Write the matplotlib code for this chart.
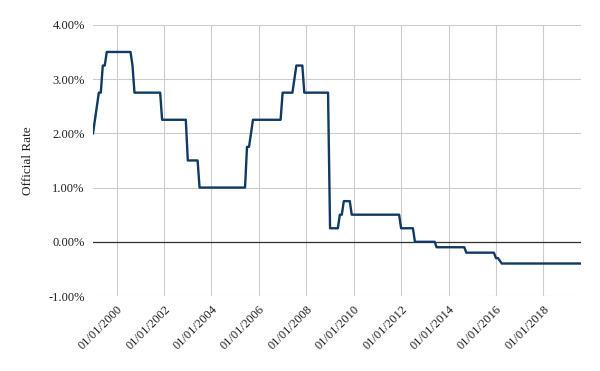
import matplotlib
matplotlib.use('Agg')
import matplotlib.pyplot as plt
import matplotlib.dates as mdates
import pandas as pd

# change points of the official rate (month, rate in %)
months = ["1999-01", "1999-04", "1999-05", "1999-06", "1999-07", "1999-08",
          "2000-08", "2000-09", "2000-10", "2001-11", "2001-12", "2002-12",
          "2003-01", "2003-06", "2003-07", "2005-06", "2005-07", "2005-08",
          "2005-09", "2005-10", "2006-12", "2007-01", "2007-06", "2007-08",
          "2007-11", "2007-12", "2008-12", "2009-01", "2009-05", "2009-06",
          "2009-07", "2009-08", "2009-11", "2009-12", "2011-12", "2012-01",
          "2012-07", "2012-08", "2013-06", "2013-07", "2014-09", "2014-10",
          "2015-12", "2016-01", "2016-02", "2016-04", "2019-08"]
rates = [2.00, 2.75, 2.75, 3.25, 3.25, 3.50,
         3.50, 3.25, 2.75, 2.75, 2.25, 2.25,
         1.50, 1.50, 1.00, 1.00, 1.75, 1.75,
         2.00, 2.25, 2.25, 2.75, 2.75, 3.25,
         3.25, 2.75, 2.75, 0.25, 0.25, 0.50,
         0.50, 0.75, 0.75, 0.50, 0.50, 0.25,
         0.25, 0.00, 0.00, -0.10, -0.10, -0.20,
         -0.20, -0.30, -0.30, -0.40, -0.40]
tick_years = list(range(2000, 2020, 2))
y_ticks = [-1, 0, 1, 2, 3, 4]

plt.rcParams['font.family'] = ['Liberation Serif', 'DejaVu Serif']

dates = pd.to_datetime(months)

fig = plt.figure(figsize=(6, 3.71), dpi=100)
ax = fig.add_axes([0.155, 0.202, 0.813, 0.731])

ax.plot(dates, rates, color='#0e3a64', lw=1.7, zorder=3)
ax.axhline(0, color='#333333', lw=0.9, zorder=2)

ax.set_xlim(pd.Timestamp("1999-01-01"), dates[-1])
ax.set_ylim(-1, 4)
ax.set_yticks(y_ticks)
ax.set_yticklabels(["%.2f%%" % v for v in y_ticks])
ax.set_xticks([pd.Timestamp("%d-01-01" % y) for y in tick_years])
ax.xaxis.set_major_formatter(mdates.DateFormatter('%d/%m/%Y'))
plt.setp(ax.get_xticklabels(), rotation=45, ha='right', rotation_mode='anchor')

ax.grid(True, color='#cccccc', lw=0.8, zorder=0)
for s in ax.spines.values():
    s.set_visible(False)
ax.tick_params(length=0, labelsize=9, colors='#222222', pad=5)
ax.tick_params(axis='y', pad=6)
ax.set_ylabel("Official Rate", fontsize=9.5, color='#222222', labelpad=10)

fig.savefig("out.png", dpi=100)
